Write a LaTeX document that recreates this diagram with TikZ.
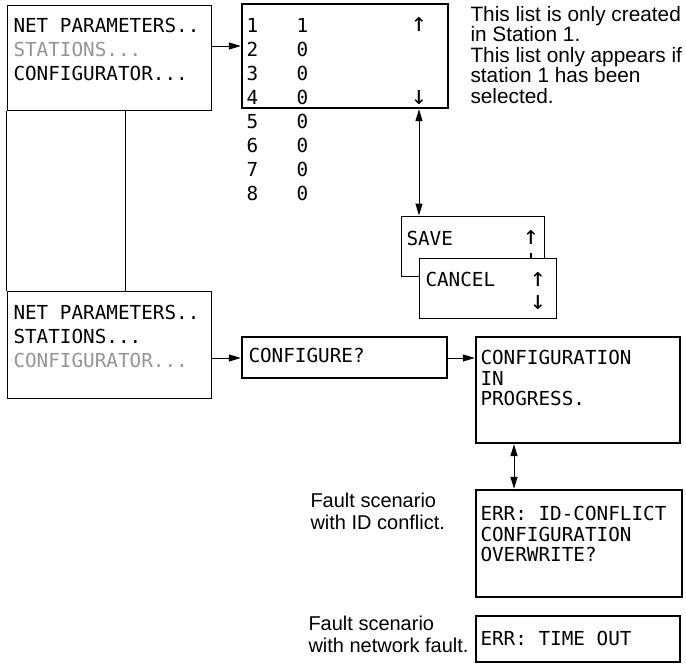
\documentclass[tikz,border=0pt]{standalone}
\usepackage{fontspec}
\setmainfont{Liberation Sans}
\newfontfamily\lcdfont{DejaVu Sans Mono}
\usepackage{tikz}
\usetikzlibrary{arrows.meta,fit}
\colorlet{lcdgray}{black!42}
\tikzset{
  lcd/.style={font={\lcdfont\fontsize{9.65pt}{12pt}\selectfont},anchor=north west,inner sep=0pt,align=left},
  lcdtight/.style={lcd,font={\lcdfont\fontsize{9.65pt}{10.25pt}\selectfont}},
  lcdmark/.style={font={\lcdfont\fontsize{13pt}{13pt}\selectfont},inner sep=0pt},
  note/.style={font={\fontsize{10.4pt}{10.25pt}\selectfont},anchor=north west,inner sep=0pt,align=left},
  thinframe/.style={draw,line width=0.5pt},
  thickframe/.style={draw,line width=1.2pt}
}
\newcommand{\lcdframe}[4]{\node[fit={#2 #3},inner sep=0pt,#4] (#1) {};}

\begin{document}
\begin{tikzpicture}[x=0.5pt,y=-0.5pt,>={Triangle[length=6pt,width=3.5pt]},line width=0.5pt]
\useasboundingbox (0,0) rectangle (686,665);
% menu screens on the left
\lcdframe{menuA}{(7,5)}{(211,110)}{thinframe}
\lcdframe{menuB}{(7,291)}{(211,398)}{thinframe}
\node[lcd] (menuAtxt) at (13,18) {NET PARAMETERS..\\\textcolor{lcdgray}{STATIONS...}\\CONFIGURATOR...};
\node[lcd] (menuBtxt) at (13,305) {NET PARAMETERS..\\STATIONS...\\\textcolor{lcdgray}{CONFIGURATOR...}};
\coordinate (stem) at (125,0);
\draw (menuA.south west) -- (menuB.north west);
\draw (menuA.south -| stem) -- (menuB.north -| stem);
% station list
\lcdframe{list}{(242,4)}{(448,108)}{thickframe}
\node[lcd] (listNo) at (246,18) {1\\2\\3\\4\\5\\6\\7\\8};
\node[lcd] (listVal) at (296,18) {1\\0\\0\\0\\0\\0\\0\\0};
\node[lcdmark] (listUp) at (419,25) {↑};
\node[lcdmark] (listDown) at (419,98) {↓};
\coordinate (rowA) at (0,46);
\draw[->] (menuA.east |- rowA) -- (list.west |- rowA);
\node[note] (listNote) at (470,5.5) {This list is only created\\in Station 1.\\This list only appears if\\station 1 has been\\selected.};
% save / cancel
\lcdframe{saveBox}{(401,216)}{(544,276)}{thinframe}
\node[lcd] (saveTxt) at (406,231) {SAVE};
\node[lcdmark] (saveUp) at (531,238) {↑};
\lcdframe{cancelBox}{(419,258)}{(556,318)}{thinframe,fill=white}
\draw[line width=0.9pt] (saveUp.south |- 0,253) -- (saveUp.south |- cancelBox.north);
\node[lcd] (cancelTxt) at (425,272) {CANCEL};
\node[lcdmark] (cancelUp) at (538,280) {↑};
\node[lcdmark] (cancelDown) at (538,303) {↓};
\coordinate (scroll) at (419,0);
\draw[<->] (list.south -| scroll) -- (saveBox.north -| scroll);
% configuration run
\lcdframe{configure}{(242,337)}{(447,378)}{thickframe}
\node[lcd] (configureTxt) at (248,348) {CONFIGURE?};
\lcdframe{progress}{(476,337)}{(680,443)}{thickframe}
\node[lcdtight] (progressTxt) at (480,350) {CONFIGURATION\\IN\\PROGRESS.};
\coordinate (rowB) at (0,358);
\draw[->] (menuB.east |- rowB) -- (configure.west |- rowB);
\draw[->] (configure.east |- rowB) -- (progress.west |- rowB);
% fault screens
\lcdframe{errId}{(476,490)}{(682,597)}{thickframe}
\node[lcdtight] (errIdTxt) at (480,506) {ERR: ID-CONFLICT\\CONFIGURATION\\OVERWRITE?};
\lcdframe{errTime}{(476,616)}{(680,662)}{thickframe}
\node[lcd] (errTimeTxt) at (480,631) {ERR: TIME OUT};
\coordinate (link) at (514,0);
\draw[<->] (progress.south -| link) -- (errId.north -| link);
\node[note,font={\fontsize{10pt}{11pt}\selectfont}] (faultId) at (310,492.5) {Fault scenario\\with ID conflict.};
\node[note,font={\fontsize{10pt}{11pt}\selectfont}] (faultNet) at (308,615.5) {Fault scenario\\with network fault.};
\end{tikzpicture}
\end{document}
